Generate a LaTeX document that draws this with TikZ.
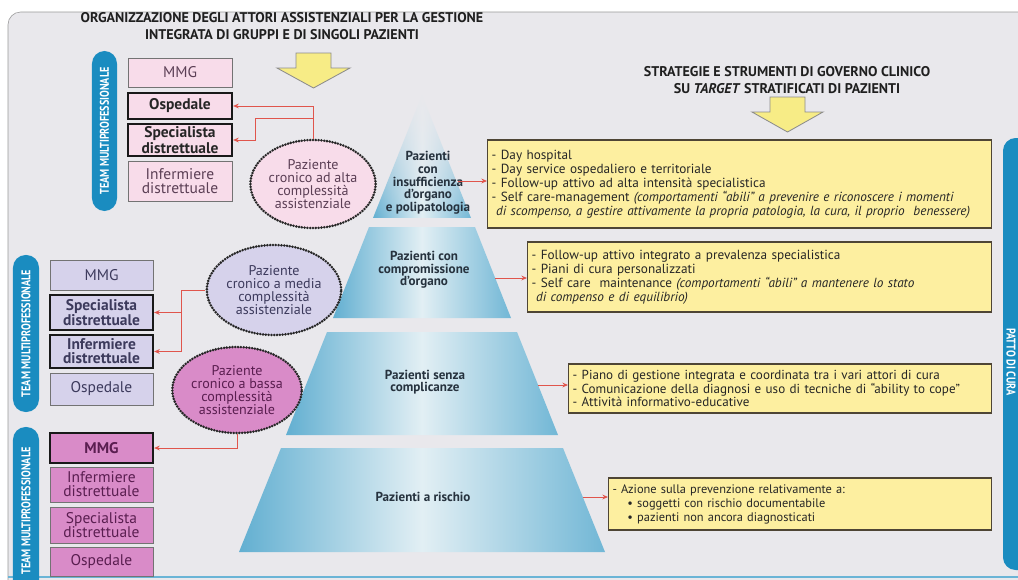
\documentclass[tikz,border=0pt]{standalone}
\usepackage{fontspec}
\setmainfont{PT Sans}
\usetikzlibrary{arrows.meta,shapes.geometric,fadings,positioning}

\definecolor{panelgray}{HTML}{E9E8EC}
\definecolor{teamblue}{HTML}{1A8CC0}
\definecolor{altafill}{HTML}{F8DCEA}
\definecolor{mediafill}{HTML}{D6D2EB}
\definecolor{bassafill}{HTML}{D98BC8}
\definecolor{altatext}{HTML}{5B3F55}
\definecolor{mediatext}{HTML}{3C3A5C}
\definecolor{bassatext}{HTML}{5A1E50}
\definecolor{pyrblue}{HTML}{62AFD1}
\definecolor{pyrlight}{HTML}{E2EFF4}
\definecolor{tiertext}{HTML}{26323E}
\definecolor{noteyellow}{HTML}{FDEFA0}
\definecolor{notebrown}{HTML}{4E4535}
\definecolor{linkred}{HTML}{E0554C}
\definecolor{arrowyellow}{HTML}{F7EC86}

\tikzfading[name=tipfade, top color=transparent!95, middle color=transparent!35, bottom color=transparent!0]

\newcommand{\barlabel}[1]{\scalebox{0.8}[1]{#1}}

\tikzset{
  >={Stealth[length=4pt,width=3.4pt]},
  heading/.style={font=\fontsize{10}{11.5}\selectfont\bfseries, text=black!88, align=center},
  teambar/.style={rectangle, rounded corners=9pt, fill=teamblue, text=white,
    font=\fontsize{9}{9}\selectfont\bfseries, inner sep=0pt},
  member/.style={rectangle, draw=black!55, line width=0.6pt, align=center,
    inner sep=0pt, font=\fontsize{11}{10}\selectfont},
  keymember/.style={member, draw=black!90, line width=1.6pt,
    font=\fontsize{11}{10}\selectfont\bfseries},
  patient/.style={ellipse, draw=black!85, line width=2pt,
    dash pattern=on 0pt off 2pt, line cap=round, align=center,
    inner sep=0pt, font=\fontsize{10}{9.3}\selectfont},
  tier/.style={left color=pyrblue, right color=pyrblue!90, middle color=pyrlight},
  tierlabel/.style={font=\fontsize{9.3}{9}\selectfont\bfseries,
    text=tiertext, align=center},
  note/.style={rectangle, draw=notebrown, line width=0.9pt, fill=noteyellow,
    anchor=west, align=left, inner xsep=0.1cm, inner ysep=0pt,
    font=\fontsize{9.4}{9.9}\selectfont, text=black!85},
  link/.style={draw=linkred, line width=0.7pt, ->},
  bigarrow/.style={fill=arrowyellow, draw=black!45, line width=0.6pt},
}

\begin{document}
\begin{tikzpicture}[x=0.025cm, y=-0.025cm]
  \useasboundingbox (0,0) rectangle (1018,579);
  \fill[white] (0,0) rectangle (1018,579);
  \draw[draw=black!40, fill=panelgray, rounded corners=9pt] (8,12) rectangle (1040,600);
  \draw[line width=1.6pt, teamblue!65] (8,577) -- (1018,577);

  % titles and the two yellow arrows
  \node[heading] (TitleLeft) at (282,26)
    {ORGANIZZAZIONE DEGLI ATTORI ASSISTENZIALI PER LA GESTIONE\\
     INTEGRATA DI GRUPPI E DI SINGOLI PAZIENTI};
  \node[heading] (TitleRight) at (787,80)
    {STRATEGIE E STRUMENTI DI GOVERNO CLINICO\\
     SU \textit{TARGET} STRATIFICATI DI PAZIENTI};
  \filldraw[bigarrow] (296,53) -- (331,53) -- (331,68) -- (350,68) -- (313.5,88)
    -- (277,68) -- (296,68) -- cycle;
  \filldraw[bigarrow] (770,97) -- (805,97) -- (805,112) -- (823,112) -- (787.5,132)
    -- (752,112) -- (770,112) -- cycle;

  % pyramid
  \path[tier, path fading=tipfade] (422,95) -- (471,218) -- (373,218) -- cycle;
  \path[tier] (369,227) -- (475,227) -- (511,318) -- (333,318) -- cycle;
  \path[tier] (327,332) -- (517,332) -- (558,435) -- (286,435) -- cycle;
  \path[tier] (281,448) -- (563,448) -- (605,552) -- (239,552) -- cycle;
  \node[tierlabel] (TierOne) at (428,183)
    {Pazienti\\con\\insufficienza\\d'organo\\e polipatologia};
  \node[tierlabel] (TierTwo) at (424,270) {Pazienti con\\compromissione\\d'organo};
  \node[tierlabel] (TierThree) at (425,382) {Pazienti senza\\complicanze};
  \node[tierlabel] (TierFour) at (423,497) {Pazienti a rischio};
  \coordinate (TierOneEdge) at (458,181);
  \coordinate (TierTwoEdge) at (495,278);
  \coordinate (TierThreeEdge) at (538,385);
  \coordinate (TierFourEdge) at (583,497);

  % strategie per livello
  \node[note, text width=12.4cm, minimum height=2.2cm] (NoteOne) at (487,184)
    {- Day hospital\\
     - Day service ospedaliero e territoriale\\
     - Follow-up attivo ad alta intensità specialistica\\
     - Self care-management \textit{(comportamenti “abili” a prevenire e riconoscere i momenti}\\
     \textit{\ di scompenso, a gestire attivamente la propria patologia, la cura, il proprio \ benessere)}};
  \node[note, text width=11.4cm, minimum height=1.75cm] (NoteTwo) at (527,277)
    {- Follow-up attivo integrato a prevalenza specialistica\\
     - Piani di cura personalizzati\\
     - Self care \ maintenance \textit{(comportamenti “abili” a mantenere lo stato}\\
     \textit{\ di compenso e di equilibrio)}};
  \node[note, text width=10.375cm, minimum height=1.225cm,
    font=\fontsize{9.3}{9.8}\selectfont] (NoteThree) at (568,388.5)
    {- Piano di gestione integrata e coordinata tra i vari attori di cura\\
     - Comunicazione della diagnosi e uso di tecniche di “ability to cope”\\
     - Attività informativo-educative};
  \node[note, text width=9.375cm, minimum height=1.3cm,
    font=\fontsize{8.8}{10}\selectfont] (NoteFour) at (608,504)
    {- Azione sulla prevenzione relativamente a:\\
     \hspace*{1.2em}• soggetti con rischio documentabile\\
     \hspace*{1.2em}• pazienti non ancora diagnosticati};
  \draw[link] (TierOneEdge) -- (TierOneEdge -| NoteOne.west);
  \draw[link] (TierTwoEdge) -- (TierTwoEdge -| NoteTwo.west);
  \draw[link] (TierThreeEdge) -- (TierThreeEdge -| NoteThree.west);
  \draw[link] (TierFourEdge) -- (TierFourEdge -| NoteFour.west);

  \fill[teamblue, rounded corners=9pt] (1003,138) rectangle (1040,570);
  \node[text=white, font=\fontsize{9}{9}\selectfont\bfseries, rotate=-90] (PattoDiCura)
    at (1011,362) {\barlabel{PATTO DI CURA}};

  % team per alta complessita
  \node[teambar, rotate=90, minimum width=4cm, minimum height=0.625cm] (BarAlta)
    at (104.5,131) {\barlabel{TEAM MULTIPROFESSIONALE}};
  \begin{scope}[every node/.append style={fill=altafill, text=altatext, minimum width=2.6cm}]
    \node[member, minimum height=0.725cm] (AltaMMG) at (180,72.5) {MMG};
    \node[keymember, text=black!85, minimum height=0.65cm] (AltaOsp) at (180,106) {Ospedale};
    \node[keymember, text=black!85, minimum height=0.8cm] (AltaSpec) at (180,140)
      {Specialista\\distrettuale};
    \node[member, minimum height=1cm] (AltaInf) at (180,181) {Infermiere\\distrettuale};
  \end{scope}
  \node[patient, fill=altafill, text=altatext, minimum width=3.1cm, minimum height=2.2cm]
    (PatAlta) at (313,184) {Paziente\\cronico ad alta\\complessità\\assistenziale};
  \coordinate (AltaFork) at (313,118);
  \draw[link] (PatAlta.north) |- (AltaOsp.east);
  \draw[link] (AltaFork) -- ++(-58,0) |- (AltaSpec.east);

  % team per media complessita
  \node[teambar, rotate=90, minimum width=3.925cm, minimum height=0.65cm] (BarMedia)
    at (26,333.5) {\barlabel{TEAM MULTIPROFESSIONALE}};
  \begin{scope}[every node/.append style={fill=mediafill, text=mediatext, minimum width=2.575cm}]
    \node[member, minimum height=0.75cm] (MediaMMG) at (101.5,275) {MMG};
    \node[keymember, minimum height=0.875cm] (MediaSpec) at (101.5,312.5)
      {Specialista\\distrettuale};
    \node[keymember, minimum height=0.825cm] (MediaInf) at (101.5,351.5)
      {Infermiere\\distrettuale};
    \node[member, minimum height=0.8cm] (MediaOsp) at (101.5,389) {Ospedale};
  \end{scope}
  \node[patient, fill=mediafill, text=mediatext, minimum width=3.2cm, minimum height=2.25cm]
    (PatMedia) at (274,290) {Paziente\\cronico a media\\complessità\\assistenziale};
  \draw[link] (PatMedia.west) -- ++(-24,0) coordinate (MediaFork) |- (MediaSpec.east);
  \draw[link] (MediaFork) |- (MediaInf.east);

  % team per bassa complessita
  \node[teambar, rotate=90, minimum width=4.2cm, minimum height=0.65cm] (BarBassa)
    at (26,511) {\barlabel{TEAM MULTIPROFESSIONALE}};
  \begin{scope}[every node/.append style={fill=bassafill, text=bassatext, minimum width=2.575cm}]
    \node[keymember, minimum height=0.75cm] (BassaMMG) at (101.5,448) {MMG};
    \node[member, minimum height=0.875cm] (BassaInf) at (101.5,484.5)
      {Infermiere\\distrettuale};
    \node[member, minimum height=0.9cm] (BassaSpec) at (101.5,525)
      {Specialista\\distrettuale};
    \node[member, minimum height=0.725cm] (BassaOsp) at (101.5,561.5) {Ospedale};
  \end{scope}
  \node[patient, fill=bassafill, text=bassatext, minimum width=3.1cm, minimum height=2.15cm]
    (PatBassa) at (237,390) {Paziente\\cronico a bassa\\complessità\\assistenziale};
  \draw[link] (PatBassa.south) |- (BassaMMG.east);
\end{tikzpicture}
\end{document}
